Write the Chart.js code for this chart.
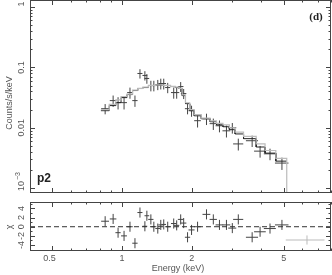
<!DOCTYPE HTML>
<html>
<head>
  <script src="https://cdn.jsdelivr.net/npm/chart.js"></script>
  <style>
    body { margin: 0; background: #fff; }
    canvas { position: absolute; left: 0; top: 0; }
  </style>
  <script>
    // Spectrum data (bin centre energy, half width, counts/s/keV, error)
    const energy = [0.845, 0.915, 0.961, 1.02, 1.082, 1.137, 1.195, 1.255, 1.28, 1.332, 1.372, 1.427, 1.47, 1.514, 1.575, 1.672,
                    1.722, 1.792, 1.846, 1.919, 1.997, 2.12, 2.317, 2.48, 2.636, 2.826, 2.996, 3.18, 3.65, 3.95, 4.36, 4.91];
    const halfWidth = [0.033, 0.03, 0.025, 0.03, 0.03, 0.03, 0.03, 0.03, 0.03, 0.035, 0.035, 0.035, 0.035, 0.035, 0.04, 0.045,
                       0.045, 0.05, 0.05, 0.05, 0.06, 0.07, 0.09, 0.09, 0.1, 0.11, 0.12, 0.16, 0.22, 0.23, 0.26, 0.33];
    const counts = [0.0207, 0.0282, 0.0261, 0.0261, 0.0383, 0.0282, 0.0794, 0.0736, 0.0656, 0.0501, 0.0501, 0.052, 0.0541, 0.0541, 0.0464, 0.0383,
                    0.0383, 0.0482, 0.0369, 0.0207, 0.0192, 0.0131, 0.0141, 0.0117, 0.0108, 0.0089, 0.0100, 0.0054, 0.0061, 0.0041, 0.0037, 0.0026];
    const countErr = [0.004, 0.006, 0.006, 0.006, 0.008, 0.006, 0.014, 0.013, 0.012, 0.010, 0.010, 0.010, 0.011, 0.011, 0.009, 0.008,
                      0.008, 0.009, 0.007, 0.004, 0.004, 0.003, 0.003, 0.0025, 0.0024, 0.002, 0.002, 0.0012, 0.0013, 0.0009, 0.0008, 0.0006];

    // residuals (chi)
    const resid = [1.2, 1.7, -1.3, -2.0, 0.0, -3.6, 3.1, 0.1, 2.4, 1.6, 0.0, -0.4, 0.4, 0.5, 0.0, 0.7,
                   0.3, 1.6, 0.8, -2.3, -0.7, 0.0, 2.7, 1.6, 0.4, 0.4, -0.3, 1.6, -2.3, -1.1, -0.4, 0.4];
    const residErr = [1.1, 1.1, 1.1, 1.1, 1.1, 1.1, 1.1, 1.1, 1.1, 1.1, 1.1, 1.1, 1.1, 1.1, 1.1, 1.1,
                      1.1, 1.1, 1.1, 1.1, 1.1, 1.1, 1.1, 1.1, 1.1, 1.1, 1.1, 1.1, 1.1, 1.1, 1.1, 1.1];
    const extraE = [6.3], extraHalf = [1.2], extraRes = [-2.9], extraErr = [1.0];

    // folded model (step edges and values)
    const modelEdges = [0.81, 0.88, 0.94, 0.99, 1.05, 1.11, 1.17, 1.23, 1.30, 1.40, 1.50, 1.62, 1.70, 1.76, 1.82, 1.88, 1.96,
                        2.05, 2.20, 2.40, 2.56, 2.73, 2.91, 3.08, 3.35, 3.80, 4.15, 4.62, 5.15];
    const modelA = [0.0192, 0.0233, 0.0261, 0.0316, 0.0355, 0.0414, 0.0447, 0.0464, 0.0501, 0.0510, 0.0501, 0.0482, 0.0464, 0.0447, 0.0341, 0.0251,
                    0.0192, 0.0158, 0.0141, 0.0126, 0.0112, 0.0104, 0.0093, 0.0079, 0.0066, 0.0048, 0.0038, 0.0028];
    const modelB = [0.0200, 0.0245, 0.0290, 0.0330, 0.0360, 0.0420, 0.0450, 0.0470, 0.0505, 0.0515, 0.0505, 0.0485, 0.0470, 0.0450, 0.0350, 0.0260,
                    0.0200, 0.0165, 0.0145, 0.0130, 0.0118, 0.0112, 0.0100, 0.0085, 0.0072, 0.0054, 0.0042, 0.0031];

    const xTicks = [0.5, 1, 2, 5];
    const xMinor = [0.6, 0.7, 0.8, 0.9, 3, 4, 6, 7, 8];
    const yTicks = [1, 0.1, 0.01, 0.001];
    const yTickLabels = ['1', '0.1', '0.01', '10^-3'];
    const resTicks = [4, 2, 0, -2, -4];

    const X_MIN = 0.4, X_MAX = 8, Y_MIN = 8.3e-4, Y_MAX = 1.31, R_MIN = -5.3, R_MAX = 5.4;
    const FONT = '9px "Liberation Sans"';
    const TXT = '#555';

    function crosses(xs, hws, ys, errs) {
      const pts = [];
      for (let i = 0; i < xs.length; i++) {
        pts.push({x: xs[i] - hws[i], y: ys[i]}, {x: xs[i] + hws[i], y: ys[i]}, {x: xs[i], y: NaN});
        pts.push({x: xs[i], y: ys[i] - errs[i]}, {x: xs[i], y: ys[i] + errs[i]}, {x: xs[i], y: NaN});
      }
      return pts;
    }

    function steps(edges, vals, drop) {
      const pts = [];
      for (let i = 0; i < vals.length; i++) {
        pts.push({x: edges[i], y: vals[i]}, {x: edges[i + 1], y: vals[i]});
      }
      if (drop !== undefined) pts.push({x: edges[edges.length - 1], y: drop});
      return pts;
    }

    function rotText(ctx, text, x, y) {
      ctx.save();
      ctx.translate(x, y);
      ctx.rotate(-Math.PI / 2);
      ctx.textAlign = 'center';
      ctx.textBaseline = 'alphabetic';
      if (text.indexOf('^') > 0) {
        const [base, sup] = text.split('^');
        const supTxt = sup.replace('-', '\u2212');
        const wb = ctx.measureText(base).width;
        ctx.font = '7px "Liberation Sans"';
        const ws = ctx.measureText(supTxt).width;
        ctx.textAlign = 'left';
        ctx.fillText(supTxt, -(wb + ws) / 2 + wb + 1, -4);
        ctx.font = FONT;
        ctx.fillText(base, -(wb + ws) / 2, 0);
      } else {
        ctx.fillText(text, 0, 0);
      }
      ctx.restore();
    }

    // frame, inward ticks and labels (PGPLOT style)
    const frameAxes = {
      id: 'frameAxes',
      afterDraw(chart, args, opts) {
        const ctx = chart.ctx, a = chart.chartArea;
        const xs = chart.scales.x, ys = chart.scales.y;
        ctx.save();
        ctx.strokeStyle = '#444';
        ctx.lineWidth = 1;
        ctx.strokeRect(a.left + 0.5, a.top + 0.5, a.right - a.left - 1, a.bottom - a.top - 1);
        ctx.beginPath();
        const xt = (v, len) => {
          const p = Math.round(xs.getPixelForValue(v)) + 0.5;
          ctx.moveTo(p, a.bottom); ctx.lineTo(p, a.bottom - len);
          ctx.moveTo(p, a.top); ctx.lineTo(p, a.top + len);
        };
        const yt = (v, len) => {
          const p = Math.round(ys.getPixelForValue(v)) + 0.5;
          ctx.moveTo(a.left, p); ctx.lineTo(a.left + len, p);
          ctx.moveTo(a.right, p); ctx.lineTo(a.right - len, p);
        };
        xTicks.forEach(v => xt(v, 5));
        xMinor.forEach(v => xt(v, 2.5));
        opts.yMajor.forEach(v => yt(v, 5));
        opts.yMinor.forEach(v => yt(v, 2.5));
        ctx.stroke();

        ctx.fillStyle = TXT;
        ctx.font = FONT;
        opts.yLabels.forEach((t, i) => {
          const p = ys.getPixelForValue(opts.yMajor[i]) + (opts.yShift[i] || 0);
          rotText(ctx, t, 24, p);
        });
        if (opts.yTitle) rotText(ctx, opts.yTitle, 12, opts.yTitleY);
        if (opts.xLabels) {
          ctx.textAlign = 'center';
          ctx.textBaseline = 'middle';
          xTicks.forEach(v => ctx.fillText(String(v), xs.getPixelForValue(v) - (v === 0.5 ? 3 : 0), 259));
          ctx.fillText('Energy (keV)', 178, 269);
        }
        if (opts.tags) {
          ctx.fillStyle = '#222';
          ctx.font = 'bold 11px "Liberation Serif"';
          ctx.textAlign = 'center';
          ctx.textBaseline = 'alphabetic';
          ctx.fillText('(d)', 316, 20);
          ctx.font = 'bold 12px "Liberation Sans"';
          ctx.textAlign = 'left';
          ctx.fillText('p2', 37, 182);
        }
        ctx.restore();
      }
    };

    function logMinor() {
      const out = [];
      [0.001, 0.01, 0.1].forEach(d => { for (let k = 2; k <= 9; k++) out.push(d * k); });
      return out;
    }

    const baseOpts = (pad, yType, yMin, yMax, axisOpts) => ({
      responsive: false,
      animation: false,
      layout: {padding: pad},
      plugins: {legend: {display: false}, tooltip: {enabled: false}, frameAxes: axisOpts},
      scales: {
        x: {type: 'logarithmic', min: X_MIN, max: X_MAX, display: false},
        y: {type: yType, min: yMin, max: yMax, display: false}
      }
    });

    window.onload = function() {
      new Chart(document.getElementById('spec'), {
        type: 'scatter',
        data: {datasets: [
          {data: steps(modelEdges, modelB, Y_MIN), showLine: true, borderColor: '#bbbbbb', borderWidth: 1.2, pointRadius: 0},
          {data: steps(modelEdges, modelA), showLine: true, borderColor: '#222', borderWidth: 1, pointRadius: 0},
          {data: crosses(energy, halfWidth, counts, countErr), showLine: true, spanGaps: false, borderColor: '#444', borderWidth: 1, pointRadius: 0}
        ]},
        options: baseOpts({left: 30, top: 0, right: 1, bottom: 82}, 'logarithmic', Y_MIN, Y_MAX, {
          yMajor: yTicks, yMinor: logMinor(), yLabels: yTickLabels, yShift: [-3, 0, 0, -6],
          yTitle: 'Counts/s/keV', yTitleY: 103, tags: true
        }),
        plugins: [frameAxes]
      });

      new Chart(document.getElementById('res'), {
        type: 'scatter',
        data: {datasets: [
          {data: [{x: X_MIN, y: 0}, {x: X_MAX, y: 0}], showLine: true, borderColor: '#333', borderWidth: 1, borderDash: [5, 3], pointRadius: 0},
          {data: crosses(extraE, extraHalf, extraRes, extraErr), showLine: true, spanGaps: false, borderColor: '#bbbbbb', borderWidth: 1, pointRadius: 0},
          {data: crosses(energy, halfWidth, resid, residErr), showLine: true, spanGaps: false, borderColor: '#444', borderWidth: 1, pointRadius: 0}
        ]},
        options: baseOpts({left: 30, top: 202, right: 1, bottom: 24}, 'linear', R_MIN, R_MAX, {
          yMajor: resTicks, yMinor: [5, 3, 1, -1, -3, -5], yLabels: resTicks.map(String), yShift: [],
          yTitle: '\u03c7', yTitleY: 227, xLabels: true
        }),
        plugins: [frameAxes]
      });
    };
  </script>
</head>
<body>
  <canvas id="spec" width="332" height="275"></canvas>
  <canvas id="res" width="332" height="275"></canvas>
</body>
</html>
